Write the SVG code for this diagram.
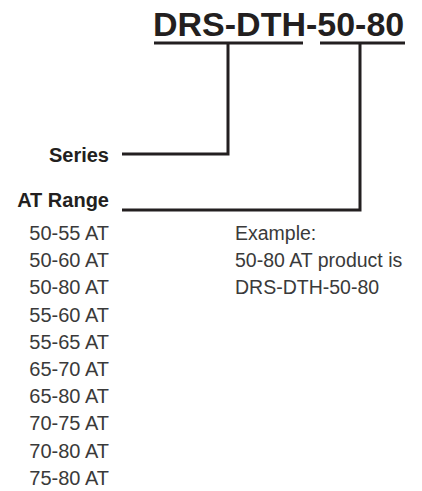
<svg xmlns="http://www.w3.org/2000/svg" width="422" height="491" viewBox="0 0 422 491">
<style>
.t{font-family:"Liberation Sans",Arial,sans-serif;}
.title{font-weight:bold;font-size:34px;fill:#231f20;}
.lab{font-weight:bold;font-size:20px;fill:#231f20;text-anchor:end;}
.item{font-size:20px;fill:#3a3a3a;text-anchor:end;}
.ex{font-size:19.5px;fill:#3a3a3a;}
.ln{stroke:#231f20;stroke-width:3;fill:none;}
</style>
<rect width="422" height="491" fill="#fff"/>
<g id="title">
<text class="t title" x="153" y="36">DRS-DTH-50-80</text>
<line class="ln" x1="154" y1="43" x2="303" y2="43"/>
<line class="ln" x1="320" y1="43" x2="405" y2="43"/>
</g>
<g id="series">
<text class="t lab" x="109" y="162">Series</text>
</g>
<g id="atrange">
<text class="t lab" x="109" y="207">AT Range</text>
<g class="t item">
<text x="109" y="240">50-55 AT</text>
<text x="109" y="267.2">50-60 AT</text>
<text x="109" y="294.4">50-80 AT</text>
<text x="109" y="321.6">55-60 AT</text>
<text x="109" y="348.8">55-65 AT</text>
<text x="109" y="376">65-70 AT</text>
<text x="109" y="403.2">65-80 AT</text>
<text x="109" y="430.4">70-75 AT</text>
<text x="109" y="457.6">70-80 AT</text>
<text x="109" y="484.8">75-80 AT</text>
</g>
</g>
<g id="example" class="t ex">
<text x="235" y="240">Example:</text>
<text x="235" y="267.2">50-80 AT product is</text>
<text x="235" y="294.4">DRS-DTH-50-80</text>
</g>
<g id="connectors">
<polyline class="ln" points="228,43 228,154 122,154"/>
<polyline class="ln" points="360,43 360,210 122,210"/>
</g>
</svg>
